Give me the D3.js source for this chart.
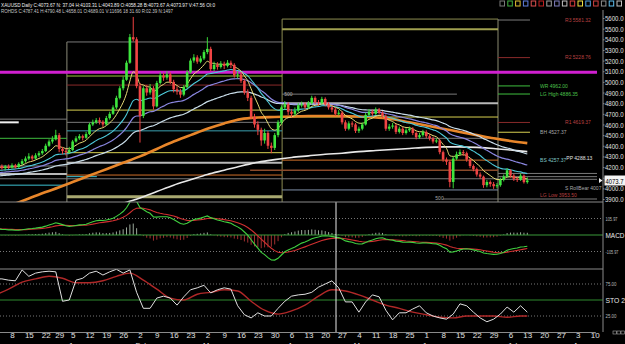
<!DOCTYPE html>
<html><head><meta charset="utf-8">
<script src="https://cdn.jsdelivr.net/npm/d3@7"></script>
<style>html,body{margin:0;padding:0;background:#000;overflow:hidden}svg{display:block}text{font-family:"Liberation Sans",Arial,sans-serif}</style>
</head><body><svg id="c" width="625" height="344"></svg>
<script>
// ---------- DATA ----------
const firstOpen = 4190;
const closes = [
4200,4210,4190,4205,4195,4215,4200,4230,4255,4280,
4300,4280,4310,4330,4350,4400,4440,4460,4500,4370,
4350,4340,4360,4440,4470,4490,4475,4510,4600,4620,
4640,4625,4600,4660,4700,4760,4850,4940,5020,5180,
5420,5400,4960,4680,4940,4900,4940,4770,4990,5060,
5040,5070,5000,4930,4910,4880,4950,5090,5200,5230,
5190,5220,5280,5310,5120,5160,5140,5170,5150,5180,
5160,5060,5070,5010,4900,4850,4670,4600,4550,4450,
4520,4400,4380,4500,4620,4760,4790,4720,4700,4730,
4780,4790,4760,4800,4850,4810,4800,4840,4790,4760,
4740,4700,4710,4620,4560,4610,4600,4540,4560,4600,
4690,4720,4700,4740,4710,4680,4560,4580,4590,4530,
4560,4520,4545,4560,4520,4480,4500,4530,4490,4470,
4440,4450,4340,4270,4250,4060,4280,4320,4340,4330,
4270,4210,4180,4130,4110,4030,4060,4040,4020,4030,
4080,4110,4170,4120,4090,4080,4120,4058.28,4073.67];
const highs = [
4225,4230,4225,4220,4225,4235,4230,4245,4275,4300,
4330,4315,4330,4350,4370,4420,4460,4490,4550,4520,
4390,4375,4390,4455,4490,4510,4505,4530,4615,4645,
4660,4665,4640,4680,4720,4780,4870,4960,5050,5200,
5450,5610,5420,4990,4960,4970,4980,4960,5010,5090,
5085,5100,5090,5020,4960,4935,4970,5110,5220,5260,
5250,5245,5300,5420,5330,5190,5185,5195,5190,5205,
5200,5175,5100,5090,5030,4930,4870,4700,4630,4570,
4560,4540,4430,4520,4640,4780,4820,4810,4745,4760,
4800,4815,4810,4820,4870,4865,4830,4860,4855,4810,
4780,4760,4735,4725,4640,4630,4630,4615,4580,4620,
4710,4745,4740,4760,4755,4725,4695,4605,4615,4605,
4580,4575,4565,4580,4575,4535,4520,4550,4545,4510,
4485,4470,4460,4355,4290,4265,4300,4345,4365,4360,
4345,4285,4225,4195,4150,4120,4080,4075,4060,4050,
4100,4130,4190,4180,4135,4105,4140,4130,4103.31];
const lows = [
4175,4185,4175,4170,4180,4185,4185,4190,4220,4240,
4265,4260,4270,4295,4315,4340,4390,4420,4450,4340,
4320,4310,4325,4350,4430,4455,4450,4465,4500,4585,
4605,4600,4575,4590,4645,4690,4745,4835,4920,5010,
5170,5380,4940,4430,4660,4870,4880,4740,4760,4975,
5010,5020,4980,4900,4880,4850,4865,4940,5080,5180,
5170,5175,5205,5260,5100,5100,5115,5125,5120,5135,
5130,5040,5030,4990,4880,4820,4650,4570,4500,4400,
4420,4370,4330,4360,4480,4600,4740,4690,4670,4680,
4715,4760,4740,4745,4785,4790,4775,4785,4770,4740,
4715,4680,4685,4600,4540,4545,4575,4520,4520,4545,
4590,4680,4680,4690,4695,4660,4540,4540,4560,4510,
4515,4500,4505,4530,4500,4460,4465,4485,4470,4450,
4420,4425,4320,4250,4220,4010,4000,4265,4310,4305,
4250,4190,4160,4110,4090,4005,4010,4015,3995,4000,
4015,4065,4100,4100,4070,4060,4070,4045,4043.89];
// slow averages, one value per Monday
const orangeMA = [3785,3845,3905,3965,4010,4060,4120,4180,4240,4300,4370,4440,4500,4560,4610,4650,4665,4670,4675,4680,4680,4680,4675,4665,4650,4620,4590,4560,4530,4500,4470,4445,4425];
const whiteLongMA = [null,null,null,null,null,null,null,3810,3860,3910,3970,4030,4080,4130,4170,4210,4245,4270,4290,4305,4320,4330,4345,4355,4365,4375,4385,4390,4390,4385,4375,4360,4345];
// stochastic: %K every 2nd bar, %D every 4th bar (+ last bar)
const stoK = [83,83,81,80,97,87,92,94,95,94,48,50,81,84,92,95,89,94,98,92,
  97,62,37,37,53,56,53,42,55,66,69,73,61,66,69,67,41,27,22,30,
  25,25,37,48,56,58,59,62,70,75,80,69,47,47,31,47,58,55,34,19,
  30,30,36,41,30,25,22,20,28,44,41,31,22,16,20,28,39,31,41,31];
const stoD = [58,67,78,83,87,84,77,77,80,87,92,81,67,53,50,59,62,66,64,48,
  34,28,33,42,56,66,64,58,50,42,37,31,27,23,22,25,25,25,23,25,25];
const emaSeeds = {yellow:4195, cyan:4160, purple:4140, white:4110, macdFast:4175, macdSlow:4135, signal:40};
const holidays = ['2025-12-25','2026-01-01'];
const priceTicks = [3900,4000,4100,4200,4300,4400,4500,4600,4700,4800,4900,5000,5100,5200,5300,5400,5500,5600];
const monthNames = ['Jan','Feb','Mar','Apr','May','Jun','Jul','Aug','Sep','Oct','Nov','Dec'];
const zoneEdges = [21.3, 85.2, 149.3];
// [price, fromBar, toBar, kind]
const levels = [
 [4650,-2,21.3,'gray'],[4620,-2,7,'whiteThick'],[4470,-2,21.3,'green'],[4210,-2,21.3,'gray'],
 [4135,-2,21.3,'lightThick'],[4090,-2,149.3,'gray'],[4030,-2,21.3,'cyan'],
 [5375,21.3,85.2,'gray'],[5055,21.3,85.2,'lime'],[4970,21.3,85.2,'darkred'],[4735,21.3,85.2,'yellow'],
 [4620,21.3,85.2,'gray'],[4540,21.3,85.2,'teal'],[4335,21.3,85.2,'yellow'],[4240,21.3,85.2,'lightThick'],
 [4125,21.3,85.2,'orange'],[4110,21.3,30.2,'cyan'],[3920,21.3,85.2,'khakiThick'],
 [5590,85.2,149.3,'olive'],[5495,85.2,149.3,'oliveThick'],[4885,85.2,137.1,'gray'],[4800,85.2,149.3,'lightThick'],
 [4670,85.2,149.3,'yellow'],[4470,85.2,149.3,'gray'],[4265,85.2,149.3,'orange'],[4170,75.7,149.3,'brown'],
 [3985,85.2,149.3,'steel'],
 [5581,149.3,158.8,'gray'],[5228,149.3,158.8,'darkred'],[4962,149.3,158.8,'green'],[4886,149.3,158.8,'green'],
 [4619,149.3,158.8,'darkred'],[4527,149.3,158.8,'yellow'],
 [4140,149.3,178.7,'gray'],[4110,149.3,178.7,'gray'],[4085,149.3,178.7,'gray'],[3900,133,178.7,'gray'],
 [5090,-2,178.7,'magenta']
];
// [text, price, bar, kind]
const levelLabels = [
 ['R3 5581.32',5581,169.2,'red'],['R2 5228.76',5228,169.2,'red'],['WR 4962.00',4962,161.8,'green'],
 ['LG High 4886.35',4886,161.8,'green'],['R1 4619.37',4619,169.2,'red'],['BH 4527.37',4527,161.8,'gray'],
 ['BS 4257.37',4262,161.8,'cyan'],['PP 4288.13',4280,169.6,'white'],['S RollBear 4007',4000,169.2,'gray'],
 ['LG Low 3953.50',3935,161.8,'red'],['500',4880,85.8,'gray'],['500',3905,130.7,'gray']
];
const lastPrice = 4073.67;
const macdLevel = 105.97;
const stoLevels = [75,50,25];
const title1 = 'XAUUSD Daily C:4073.67 N: 37.04 H:4103.31 L:4043.89 O:4058.28 B:4073.67 A:4073.97 V:47.56 OI:0';
const title2 = 'ROHDS C:4787.41 H:4790.48 L:4658.01 O:4689.01 V:11696 18 31.60 R:02.39 N:1497';

// ---------- STYLES ----------
const kindStyle = {
 gray:['#7a7a7a',1], whiteThick:['#f0f0f0',2], green:['#3fbf3f',1], lightThick:['#b8b8b8',2], cyan:['#3cc0d0',1],
 lime:['#9cc83c',1], darkred:['#8a2a2a',1], yellow:['#d8d050',1], teal:['#3aa0b0',1], orange:['#d0702a',1],
 khakiThick:['#a8a870',3], olive:['#8c8c50',1], oliveThick:['#a0a050',2], brown:['#8a4a2a',1.5], steel:['#8090a8',1],
 magenta:['#d020d0',3]
};
const labelColor = {red:'#b84040', green:'#4cc04c', gray:'#a8a8a8', cyan:'#80c8c8', white:'#e0e0e0'};
const FONT = '"Liberation Sans",Arial,sans-serif';

// ---------- HELPERS ----------
const ema = (vals, p, seed) => { const k = 2/(p+1); let e = seed; return vals.map(v => (e = e + k*(v-e))); };

const svg = d3.select('#c');
svg.append('rect').attr('width',625).attr('height',344).attr('fill','#000');

const fmt = d3.utcFormat('%Y-%m-%d');
const days = d3.utcDay.range(new Date(Date.UTC(2025,11,1)), new Date(Date.UTC(2026,7,15)))
  .filter(d => d.getUTCDay()>0 && d.getUTCDay()<6 && !holidays.includes(fmt(d)));
const mondays = days.map((d,i)=>[d,i]).filter(([d])=>d.getUTCDay()===1);

const x = d3.scaleLinear().domain([0,178]).range([-4.84, -4.84 + 178*3.368]);
const y = d3.scaleLinear().domain([3900,5600]).range([199,18]);
const yMacd = d3.scaleLinear().domain([-macdLevel, macdLevel]).range([251.5,218.5]);
const ySto = d3.scaleLinear().domain([0,100]).range([332,268]);
const AX = 603;

const defs = svg.append('defs');
[['cp',12,202],['cm',202,269],['cs',269,332]].forEach(([id,a,b]) =>
  defs.append('clipPath').attr('id',id).append('rect').attr('x',0).attr('y',a).attr('width',AX).attr('height',b-a));

// ---------- PRICE PANE ----------
const gp = svg.append('g').attr('clip-path','url(#cp)');
gp.append('line').attr('x1',x(zoneEdges[0])).attr('x2',x(zoneEdges[0])).attr('y1',y(5375)).attr('y2',202).attr('stroke','#8a8a78');
gp.append('line').attr('x1',x(zoneEdges[1])).attr('x2',x(zoneEdges[1])).attr('y1',y(5590)).attr('y2',202).attr('stroke','#8c8c50');
gp.append('line').attr('x1',x(zoneEdges[2])).attr('x2',x(zoneEdges[2])).attr('y1',y(5590)).attr('y2',202).attr('stroke','#8a8a70');

levels.forEach(([p,a,b,k]) => {
  const [c,w] = kindStyle[k];
  gp.append('line').attr('x1',x(a)).attr('x2',Math.min(x(b),AX-5)).attr('y1',y(p)).attr('y2',y(p))
    .attr('stroke',c).attr('stroke-width',w);
});
levelLabels.forEach(([t,p,b,k]) => {
  gp.append('text').attr('x',x(b)).attr('y',y(p)+1.8).text(t).attr('font-size',5).attr('fill',labelColor[k]);
});

const lineG = d3.line().x(d=>x(d[0])).y(d=>y(d[1])).defined(d=>d[1]!=null).curve(d3.curveMonotoneX);
const idx = closes.map((_,i)=>i);
const maWeekly = arr => mondays.filter(([,i])=>i<closes.length).map(([,i],k)=>[i, arr[k]]);
gp.append('path').attr('d', lineG(maWeekly(whiteLongMA))).attr('fill','none').attr('stroke','#e8e8e8').attr('stroke-width',1.6);
gp.append('path').attr('d', lineG(maWeekly(orangeMA))).attr('fill','none').attr('stroke','#e8862a').attr('stroke-width',2.6);
const emaLines = [
  ['white',55,'#c8dce8',1.2],['purple',34,'#8a86e0',1.2],['cyan',20,'#4cc8d8',1.1],['yellow',8,'#e6dc78',1]
];
emaLines.forEach(([k,p,c,w]) => {
  const e = ema(closes,p,emaSeeds[k]);
  gp.append('path').attr('d', lineG(idx.map(i=>[i,e[i]]))).attr('fill','none').attr('stroke',c).attr('stroke-width',w);
});

const bars = closes.map((c,i)=>({i, o: i ? closes[i-1] : firstOpen, h: highs[i], l: lows[i], c}));
const cg = gp.append('g');
cg.selectAll('line.w').data(bars).join('line').attr('class','w')
  .attr('x1',d=>x(d.i)).attr('x2',d=>x(d.i)).attr('y1',d=>y(d.h)).attr('y2',d=>y(d.l))
  .attr('stroke',d=>d.c>=d.o?'#38d838':'#f04040').attr('stroke-width',1);
cg.selectAll('rect.b').data(bars).join('rect').attr('class','b')
  .attr('x',d=>x(d.i)-1.3).attr('width',2.6)
  .attr('y',d=>y(Math.max(d.o,d.c))).attr('height',d=>Math.max(1,Math.abs(y(d.o)-y(d.c))))
  .attr('fill',d=>d.c>=d.o?'#3ee63e':'#f04444');

// ---------- MACD ----------
const gm = svg.append('g').attr('clip-path','url(#cm)');
const slow = ema(closes,26,emaSeeds.macdSlow);
const macd = ema(closes,12,emaSeeds.macdFast).map((v,i)=>v - slow[i]);
const signal = ema(macd,9,emaSeeds.signal);
[macdLevel,-macdLevel].forEach(v => gm.append('line').attr('x1',0).attr('x2',AX).attr('y1',yMacd(v)).attr('y2',yMacd(v))
  .attr('stroke','#777').attr('stroke-dasharray','1,2'));
gm.selectAll('rect.h').data(idx).join('rect').attr('class','h')
  .attr('x',i=>x(i)-0.5).attr('width',1)
  .attr('y',i=>Math.min(yMacd(0),yMacd(macd[i]-signal[i]))).attr('height',i=>Math.abs(yMacd(macd[i]-signal[i])-yMacd(0)))
  .attr('fill',i=>macd[i]-signal[i]>=0?'#9aa89a':'#a03030');
gm.append('line').attr('x1',0).attr('x2',AX).attr('y1',yMacd(0)).attr('y2',yMacd(0)).attr('stroke','#3a9a3a');
const lm = d3.line().x((d,i)=>x(i)).y(d=>yMacd(d));
gm.append('path').attr('d',lm(signal)).attr('fill','none').attr('stroke','#d03030').attr('stroke-width',1.1);
gm.append('path').attr('d',lm(macd)).attr('fill','none').attr('stroke','#40d040').attr('stroke-width',1.1);

// ---------- STOCHASTIC ----------
const gs = svg.append('g').attr('clip-path','url(#cs)');
stoLevels.forEach(v => gs.append('line').attr('x1',0).attr('x2',AX).attr('y1',ySto(v)).attr('y2',ySto(v))
  .attr('stroke', v===50?'#2f8a2f':'#777').attr('stroke-dasharray', v===50?null:'1,2'));
const stoDBars = d3.range(0,157,4).concat([158]);
const lsD = d3.line().x(d=>x(d[0])).y(d=>ySto(d[1])).curve(d3.curveMonotoneX);
const lsK = d3.line().x(d=>x(d[0])).y(d=>ySto(d[1]));
gs.append('path').attr('d',lsD(stoD.map((v,k)=>[stoDBars[k],v]))).attr('fill','none').attr('stroke','#b02828').attr('stroke-width',1.4);
gs.append('path').attr('d',lsK(stoK.map((v,k)=>[k*2,v]))).attr('fill','none').attr('stroke','#e0e0e0').attr('stroke-width',1);

svg.append('line').attr('x1',x(101.2)).attr('x2',x(101.2)).attr('y1',202).attr('y2',332).attr('stroke','#e8e8e8');

// ---------- FRAME & AXES ----------
[202,269].forEach(v => svg.append('line').attr('x1',0).attr('x2',AX).attr('y1',v).attr('y2',v).attr('stroke','#8a8a8a'));
const ya = svg.append('g').attr('transform',`translate(${AX},0)`)
  .call(d3.axisRight(y).tickValues(priceTicks).tickFormat(d3.format('.1f')).tickSize(1.5).tickPadding(0.5));
ya.select('.domain').remove();
ya.selectAll('text').attr('fill','#e0e0e0').attr('font-size',8).attr('font-family',FONT)
  .attr('textLength',18.5).attr('lengthAdjust','spacingAndGlyphs');
ya.selectAll('line').attr('stroke','#888');
svg.append('line').attr('x1',AX).attr('x2',AX).attr('y1',10).attr('y2',332).attr('stroke','#8a8a8a');

const xa = svg.append('g').attr('transform','translate(0,332)')
  .call(d3.axisBottom(x).tickValues(mondays.map(m=>m[1])).tickFormat(i=>days[i].getUTCDate()).tickSize(1.5).tickPadding(0));
xa.select('.domain').attr('stroke','#8a8a8a');
xa.selectAll('line').attr('stroke','#888');
xa.selectAll('text').attr('fill','#e0e0e0').attr('font-size',8).attr('font-family',FONT).attr('dy','0.62em');
mondays.filter(([d])=>d.getUTCDate()<=7).forEach(([d,i]) => {
  svg.append('text').attr('x',x(i)+2).attr('y',347.5).attr('text-anchor','middle').attr('font-size',7.5).attr('fill','#e0e0e0')
    .text(monthNames[d.getUTCMonth()]);
});

const rl = (t,yy,fs,c,len) => { const tx = svg.append('text').attr('x',AX+2.5).attr('y',yy).text(t).attr('font-size',fs).attr('fill',c);
  if (len) tx.attr('textLength',len).attr('lengthAdjust','spacingAndGlyphs'); };
rl(d3.format('.2f')(macdLevel), yMacd(macdLevel)+2, 5, '#bbb', 12);
rl('MACD', yMacd(0)+3, 8, '#e8e8e8', 19);
rl('-'+d3.format('.2f')(macdLevel), yMacd(-macdLevel)+2, 5, '#bbb', 13);
rl('75.00', ySto(75)+2, 5, '#bbb', 11);
rl('STO 2', ySto(50)+3, 8, '#e8e8e8', 19.5);
rl('25.00', ySto(25)+2, 5, '#bbb', 11);

// last price tag
svg.append('rect').attr('x',AX+1.5).attr('y',y(lastPrice)-5).attr('width',20.5).attr('height',10).attr('fill','#f4f4f4');
svg.append('text').attr('x',AX+2.5).attr('y',y(lastPrice)+3).text(d3.format('.1f')(lastPrice).slice(0,6)).attr('font-size',8).attr('fill','#000')
  .attr('textLength',18).attr('lengthAdjust','spacingAndGlyphs');
svg.append('path').attr('d',`M${AX-4},${y(lastPrice)-2.5} L${AX-0.5},${y(lastPrice)} L${AX-4},${y(lastPrice)+2.5}Z`).attr('fill','#eee');

// title
svg.append('text').attr('x',1).attr('y',7).text(title1).attr('font-size',6).attr('fill','#f0f0f0')
  .attr('textLength',214).attr('lengthAdjust','spacingAndGlyphs');
svg.append('text').attr('x',1).attr('y',13).text(title2).attr('font-size',5).attr('fill','#c8c8c8')
  .attr('textLength',172).attr('lengthAdjust','spacingAndGlyphs');

const iconCols = ['#7a7a7a','#40b040','#e0c030','#6080e0','#e05050','#c02020','#a0a0a0','#8080c0','#c0c0c0','#e04040','#f0e040','#50a0e0','#d04040','#909090','#60c0f0','#c0c0c0'];
iconCols.forEach((c,k) => svg.append('rect').attr('x',500+k*7.8).attr('y',1).attr('width',4.5).attr('height',5).attr('fill','none').attr('stroke',c).attr('stroke-width',1));
[0,1,2].forEach(k => svg.append('rect').attr('x',613+k*4).attr('y',331).attr('width',3.4).attr('height',3).attr('fill','none').attr('stroke','#aaa').attr('stroke-width',0.6));
</script></body></html>
